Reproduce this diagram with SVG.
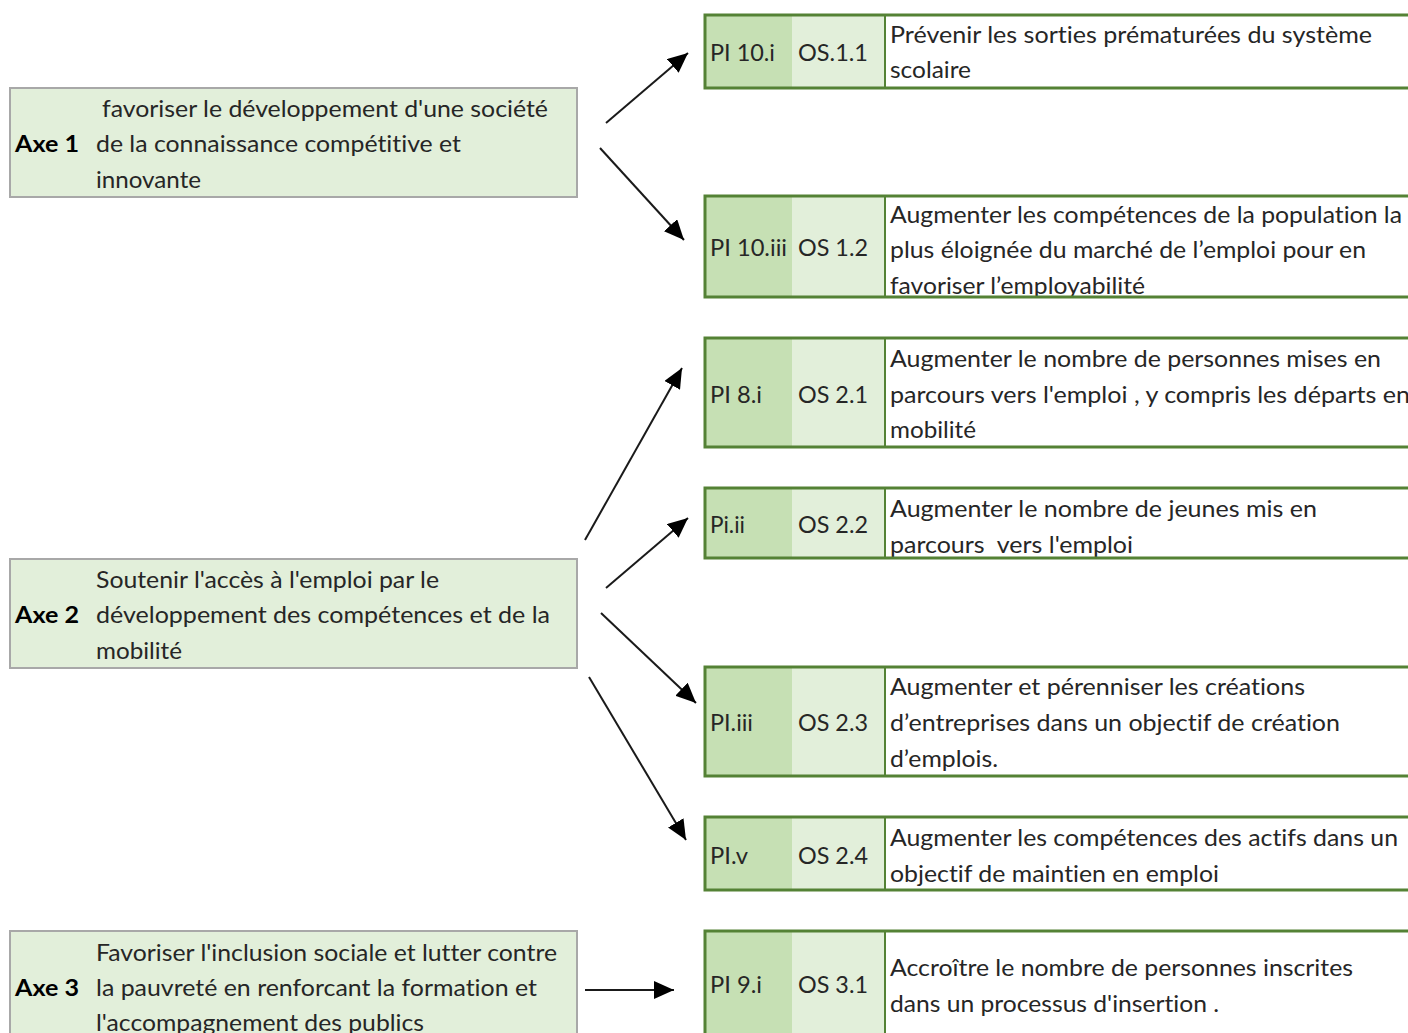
<svg xmlns="http://www.w3.org/2000/svg" width="1408" height="1033" viewBox="0 0 1408 1033">
<defs>
<marker id="arr" markerUnits="userSpaceOnUse" markerWidth="22" markerHeight="18" refX="20" refY="9" orient="auto">
<path d="M0,0 L20,9 L0,18 Z" fill="#000"/>
</marker>
<style>
text{font-family:Lato,"Open Sans","Liberation Sans",sans-serif;font-size:23px;fill:#262626;white-space:pre;font-variant-ligatures:none}
.axe{font-weight:bold;fill:#000}
.ax{fill:#e2efda;stroke:#a8a8a8;stroke-width:2}
.pi{fill:#c6e0b4}
.os{fill:#e2efda}
.bd{fill:none;stroke:#548235;stroke-width:3}
.dv{stroke:#548235;stroke-width:2}
.con line{stroke:#1a1a1a;stroke-width:2;marker-end:url(#arr)}
</style>
</defs>
<rect width="1408" height="1033" fill="#fff"/>

<g id="axe1">
<rect class="ax" x="10" y="88" width="567" height="109"/>
<text class="axe" x="15" y="152" textLength="64" lengthAdjust="spacingAndGlyphs">Axe 1</text>
<text x="102" y="117" textLength="446" lengthAdjust="spacingAndGlyphs">favoriser le développement d'une société</text>
<text x="96" y="152" textLength="365" lengthAdjust="spacingAndGlyphs">de la connaissance compétitive et</text>
<text x="96" y="188" textLength="105" lengthAdjust="spacingAndGlyphs">innovante</text>
</g>
<g id="axe2">
<rect class="ax" x="10" y="559" width="567" height="109"/>
<text class="axe" x="15" y="623" textLength="64" lengthAdjust="spacingAndGlyphs">Axe 2</text>
<text x="96" y="588" textLength="343" lengthAdjust="spacingAndGlyphs">Soutenir l'accès à l'emploi par le</text>
<text x="96" y="623" textLength="454" lengthAdjust="spacingAndGlyphs">développement des compétences et de la</text>
<text x="96" y="659" textLength="86" lengthAdjust="spacingAndGlyphs">mobilité</text>
</g>
<g id="axe3">
<rect class="ax" x="10" y="931" width="567" height="120"/>
<text class="axe" x="15" y="996" textLength="64" lengthAdjust="spacingAndGlyphs">Axe 3</text>
<text x="96" y="961" textLength="461" lengthAdjust="spacingAndGlyphs">Favoriser l'inclusion sociale et lutter contre</text>
<text x="96" y="996" textLength="441" lengthAdjust="spacingAndGlyphs">la pauvreté en renforcant la formation et</text>
<text x="96" y="1031" textLength="328" lengthAdjust="spacingAndGlyphs">l'accompagnement des publics</text>
</g>

<g id="os11">
<rect class="pi" x="705" y="15" width="87" height="73"/><rect class="os" x="792" y="15" width="93" height="73"/>
<path class="bd" d="M1410,15 H705 V88 H1410"/><line class="dv" x1="885" y1="15" x2="885" y2="88"/>
<text x="710" y="61" textLength="65" lengthAdjust="spacingAndGlyphs">PI 10.i</text>
<text x="798" y="61" textLength="70" lengthAdjust="spacingAndGlyphs">OS.1.1</text>
<text x="890" y="43" textLength="482" lengthAdjust="spacingAndGlyphs">Prévenir les sorties prématurées du système</text>
<text x="890" y="78" textLength="81" lengthAdjust="spacingAndGlyphs">scolaire</text>
</g>
<g id="os12">
<rect class="pi" x="705" y="196" width="87" height="101"/><rect class="os" x="792" y="196" width="93" height="101"/>
<text x="710" y="256" textLength="77" lengthAdjust="spacingAndGlyphs">PI 10.iii</text>
<text x="798" y="256" textLength="70" lengthAdjust="spacingAndGlyphs">OS 1.2</text>
<text x="890" y="223" textLength="512" lengthAdjust="spacingAndGlyphs">Augmenter les compétences de la population la</text>
<text x="890" y="258" textLength="476" lengthAdjust="spacingAndGlyphs">plus éloignée du marché de l’emploi pour en</text>
<text x="890" y="294" textLength="255" lengthAdjust="spacingAndGlyphs">favoriser l’employabilité</text>
<path class="bd" d="M1410,196 H705 V297 H1410"/><line class="dv" x1="885" y1="196" x2="885" y2="297"/>
</g>
<g id="os21">
<rect class="pi" x="705" y="338" width="87" height="109"/><rect class="os" x="792" y="338" width="93" height="109"/>
<path class="bd" d="M1410,338 H705 V447 H1410"/><line class="dv" x1="885" y1="338" x2="885" y2="447"/>
<text x="710" y="403" textLength="52" lengthAdjust="spacingAndGlyphs">PI 8.i</text>
<text x="798" y="403" textLength="70" lengthAdjust="spacingAndGlyphs">OS 2.1</text>
<text x="890" y="367" textLength="491" lengthAdjust="spacingAndGlyphs">Augmenter le nombre de personnes mises en</text>
<text x="890" y="403" textLength="520" lengthAdjust="spacingAndGlyphs">parcours vers l'emploi , y compris les départs en</text>
<text x="890" y="438" textLength="86" lengthAdjust="spacingAndGlyphs">mobilité</text>
</g>
<g id="os22">
<rect class="pi" x="705" y="488" width="87" height="70"/><rect class="os" x="792" y="488" width="93" height="70"/>
<text x="710" y="533" textLength="35" lengthAdjust="spacingAndGlyphs">Pi.ii</text>
<text x="798" y="533" textLength="70" lengthAdjust="spacingAndGlyphs">OS 2.2</text>
<text x="890" y="517" textLength="427" lengthAdjust="spacingAndGlyphs">Augmenter le nombre de jeunes mis en</text>
<text x="890" y="553" textLength="243" lengthAdjust="spacingAndGlyphs">parcours  vers l'emploi</text>
<path class="bd" d="M1410,488 H705 V558 H1410"/><line class="dv" x1="885" y1="488" x2="885" y2="558"/>
</g>
<g id="os23">
<rect class="pi" x="705" y="667" width="87" height="109"/><rect class="os" x="792" y="667" width="93" height="109"/>
<path class="bd" d="M1410,667 H705 V776 H1410"/><line class="dv" x1="885" y1="667" x2="885" y2="776"/>
<text x="710" y="731" textLength="43" lengthAdjust="spacingAndGlyphs">PI.iii</text>
<text x="798" y="731" textLength="70" lengthAdjust="spacingAndGlyphs">OS 2.3</text>
<text x="890" y="695" textLength="415" lengthAdjust="spacingAndGlyphs">Augmenter et pérenniser les créations</text>
<text x="890" y="731" textLength="450" lengthAdjust="spacingAndGlyphs">d’entreprises dans un objectif de création</text>
<text x="890" y="767" textLength="108" lengthAdjust="spacingAndGlyphs">d’emplois.</text>
</g>
<g id="os24">
<rect class="pi" x="705" y="817" width="87" height="73"/><rect class="os" x="792" y="817" width="93" height="73"/>
<path class="bd" d="M1410,817 H705 V890 H1410"/><line class="dv" x1="885" y1="817" x2="885" y2="890"/>
<text x="710" y="864" textLength="38" lengthAdjust="spacingAndGlyphs">PI.v</text>
<text x="798" y="864" textLength="70" lengthAdjust="spacingAndGlyphs">OS 2.4</text>
<text x="890" y="846" textLength="508" lengthAdjust="spacingAndGlyphs">Augmenter les compétences des actifs dans un</text>
<text x="890" y="882" textLength="329" lengthAdjust="spacingAndGlyphs">objectif de maintien en emploi</text>
</g>
<g id="os31">
<rect class="pi" x="705" y="931" width="87" height="110"/><rect class="os" x="792" y="931" width="93" height="110"/>
<path class="bd" d="M1410,931 H705 V1045"/><line class="dv" x1="885" y1="931" x2="885" y2="1045"/>
<text x="710" y="993" textLength="52" lengthAdjust="spacingAndGlyphs">PI 9.i</text>
<text x="798" y="993" textLength="70" lengthAdjust="spacingAndGlyphs">OS 3.1</text>
<text x="890" y="976" textLength="463" lengthAdjust="spacingAndGlyphs">Accroître le nombre de personnes inscrites</text>
<text x="890" y="1012" textLength="329" lengthAdjust="spacingAndGlyphs">dans un processus d'insertion .</text>
</g>

<g id="connectors" class="con">
<line x1="606" y1="123" x2="688" y2="53"/>
<line x1="600" y1="148" x2="684" y2="240"/>
<line x1="585" y1="540" x2="682" y2="368"/>
<line x1="606" y1="588" x2="688" y2="518"/>
<line x1="601" y1="613" x2="696" y2="703"/>
<line x1="589" y1="677" x2="686" y2="840"/>
<line x1="585" y1="990" x2="674" y2="990"/>
</g>
</svg>
